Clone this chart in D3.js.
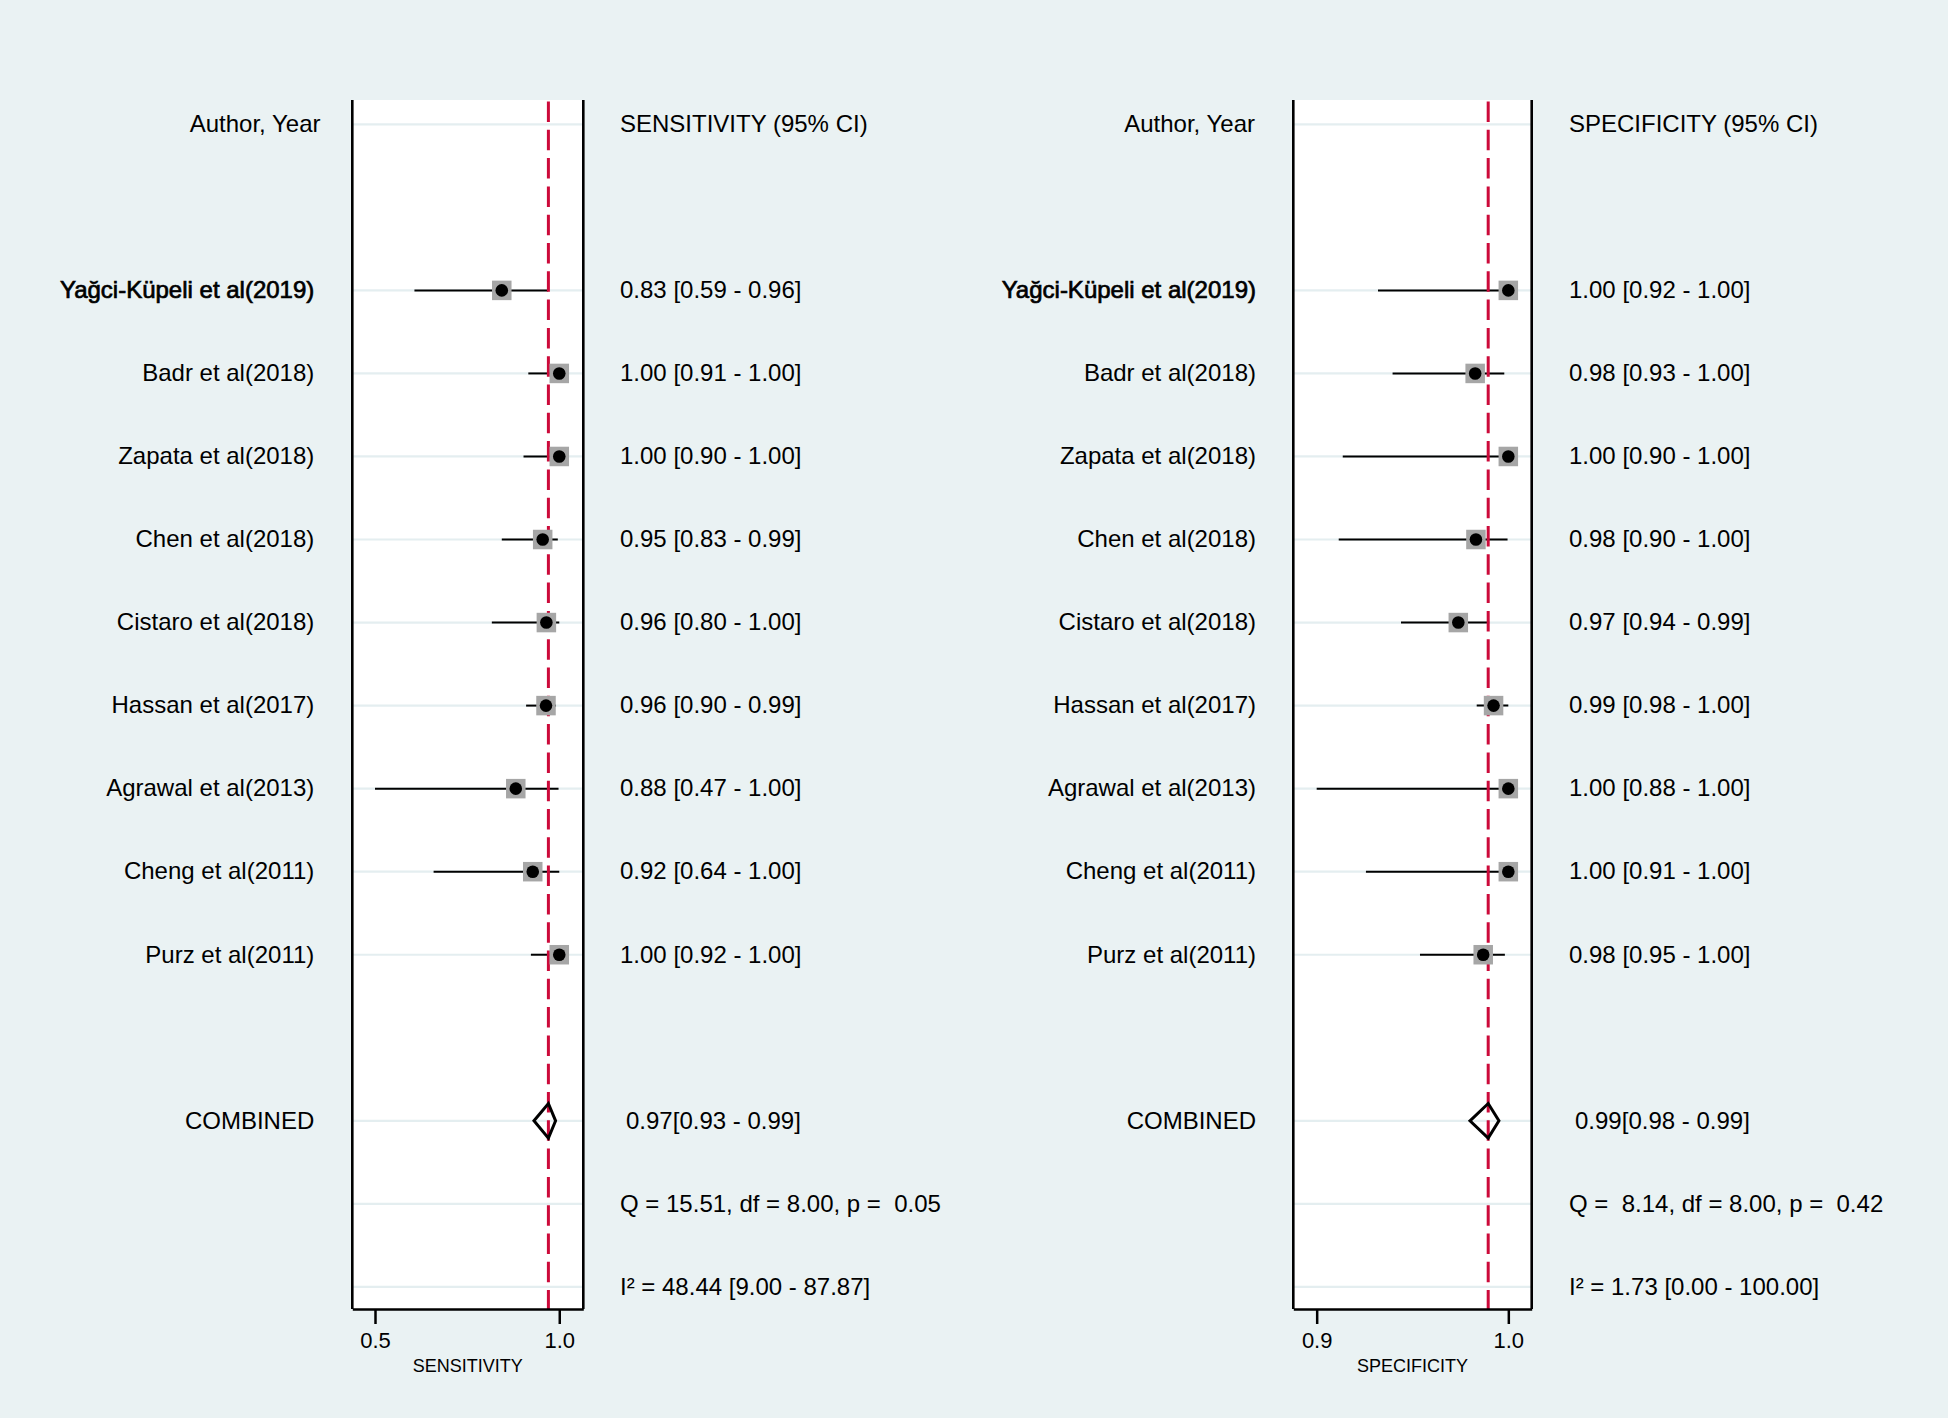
<!DOCTYPE html>
<html>
<head>
<meta charset="utf-8">
<script src="https://cdn.jsdelivr.net/npm/d3@7"></script>
<style>
  html, body { margin: 0; padding: 0; background: #eaf2f3; }
  svg { display: block; }
  text { font-family: "Liberation Sans", Arial, Helvetica, sans-serif; fill: #000; }
</style>
</head>
<body>
<svg id="chart" width="1948" height="1418"></svg>
<script>
// ---------------- DATA ----------------
const authors = ["Yağci-Küpeli et al(2019)", "Badr et al(2018)", "Zapata et al(2018)", "Chen et al(2018)",
  "Cistaro et al(2018)", "Hassan et al(2017)", "Agrawal et al(2013)", "Cheng et al(2011)", "Purz et al(2011)"];

// Sensitivity (positions as drawn in the plot)
const sensEst = [0.844, 1.000, 1.000, 0.955, 0.965, 0.964, 0.882, 0.928, 1.000];
const sensLo  = [0.607, 0.916, 0.903, 0.844, 0.817, 0.910, 0.500, 0.659, 0.923];
const sensHi  = [0.970, 1.000, 1.000, 0.996, 1.000, 0.991, 0.998, 1.000, 1.000];
const sensLabels = ["0.83 [0.59 - 0.96]", "1.00 [0.91 - 1.00]", "1.00 [0.90 - 1.00]", "0.95 [0.83 - 0.99]",
  "0.96 [0.80 - 1.00]", "0.96 [0.90 - 0.99]", "0.88 [0.47 - 1.00]", "0.92 [0.64 - 1.00]", "1.00 [0.92 - 1.00]"];
const sensCombined = [0.9705, 0.9314, 0.990];   // est, lo, hi
const sensCombinedLabel = "0.97[0.93 - 0.99]";
const sensQ = "Q = 15.51, df = 8.00, p =  0.05";
const sensI2 = "I² = 48.44 [9.00 - 87.87]";
const sensTicks = [0.5, 1.0];

// Specificity
const specEst = [1.000, 0.9827, 1.000, 0.9831, 0.9739, 0.9923, 1.000, 1.000, 0.9869];
const specLo  = [0.932, 0.9396, 0.9136, 0.9115, 0.944, 0.9835, 0.900, 0.9257, 0.9539];
const specHi  = [1.000, 0.9979, 1.000, 0.9996, 0.990, 1.000, 1.000, 1.000, 0.9982];
const specLabels = ["1.00 [0.92 - 1.00]", "0.98 [0.93 - 1.00]", "1.00 [0.90 - 1.00]", "0.98 [0.90 - 1.00]",
  "0.97 [0.94 - 0.99]", "0.99 [0.98 - 1.00]", "1.00 [0.88 - 1.00]", "1.00 [0.91 - 1.00]", "0.98 [0.95 - 1.00]"];
const specCombined = [0.9895, 0.980, 0.9951];
const specCombinedLabel = "0.99[0.98 - 0.99]";
const specQ = "Q =  8.14, df = 8.00, p =  0.42";
const specI2 = "I² = 1.73 [0.00 - 100.00]";
const specTicks = [0.9, 1.0];

const headerLeft = "Author, Year";
const combinedName = "COMBINED";

// ---------------- LAYOUT ----------------
const svg = d3.select("#chart");
const rowY = d3.scaleLinear().domain([0, 14]).range([124.3, 1286.9]);
const frameTop = 100, frameBottom = 1309;
const studyRows = authors.map((d, i) => i + 2);
const gridRows = [0, ...studyRows, 12, 13, 14];

const panels = [
  { est: sensEst, lo: sensLo, hi: sensHi, labels: sensLabels, comb: sensCombined, combLabel: sensCombinedLabel,
    q: sensQ, i2: sensI2, ticks: sensTicks, title: "SENSITIVITY", header: "SENSITIVITY (95% CI)",
    domain: [0.4384, 1.0652], range: [352.3, 583.3], authorEnd: 320.5, nameEnd: 314.3, valX: 620, combX: 626 },
  { est: specEst, lo: specLo, hi: specHi, labels: specLabels, comb: specCombined, combLabel: specCombinedLabel,
    q: specQ, i2: specI2, ticks: specTicks, title: "SPECIFICITY", header: "SPECIFICITY (95% CI)",
    domain: [0.8878, 1.0122], range: [1293.3, 1531.7], authorEnd: 1255, nameEnd: 1256, valX: 1569, combX: 1575 }
];

const red = "#cc0a3a";

panels.forEach(p => {
  const x = d3.scaleLinear().domain(p.domain).range(p.range);
  const g = svg.append("g");
  const [x0, x1] = p.range;

  // plot region
  g.append("rect").attr("x", x0).attr("y", frameTop).attr("width", x1 - x0).attr("height", frameBottom - frameTop)
    .attr("fill", "#ffffff");

  // gridlines
  g.selectAll("line.grid").data(gridRows).join("line").attr("class", "grid")
    .attr("x1", x0).attr("x2", x1).attr("y1", d => rowY(d)).attr("y2", d => rowY(d))
    .attr("stroke", "#e4eef0").attr("stroke-width", 2.2);

  // CI lines
  g.selectAll("line.ci").data(p.est).join("line").attr("class", "ci")
    .attr("x1", (d, i) => x(p.lo[i])).attr("x2", (d, i) => x(p.hi[i]))
    .attr("y1", (d, i) => rowY(studyRows[i])).attr("y2", (d, i) => rowY(studyRows[i]))
    .attr("stroke", "#000").attr("stroke-width", 2);

  // pooled estimate dashed line
  g.append("line").attr("x1", x(p.comb[0])).attr("x2", x(p.comb[0]))
    .attr("y1", frameTop + 1.5).attr("y2", frameBottom)
    .attr("stroke", red).attr("stroke-width", 3).attr("stroke-dasharray", "20.5 7.8");

  // squares
  const sq = 19.5;
  g.selectAll("rect.sq").data(p.est).join("rect").attr("class", "sq")
    .attr("x", d => x(d) - sq / 2).attr("y", (d, i) => rowY(studyRows[i]) - sq / 2)
    .attr("width", sq).attr("height", sq).attr("fill", "#a6a6a6");

  // dots
  g.selectAll("circle.dot").data(p.est).join("circle").attr("class", "dot")
    .attr("cx", d => x(d)).attr("cy", (d, i) => rowY(studyRows[i])).attr("r", 6.3).attr("fill", "#000");

  // diamond
  const cy = rowY(12), h = 17.3;
  const [ce, cl, ch] = p.comb;
  g.append("path")
    .attr("d", `M${x(cl)},${cy} L${x(ce)},${cy - h} L${x(ch)},${cy} L${x(ce)},${cy + h} Z`)
    .attr("fill", "none").attr("stroke", "#000").attr("stroke-width", 3).attr("stroke-linejoin", "miter");

  // frame: left, right borders
  [x0, x1].forEach(xx => g.append("line").attr("x1", xx).attr("x2", xx).attr("y1", frameTop).attr("y2", frameBottom)
    .attr("stroke", "#000").attr("stroke-width", 2.6));

  // axis
  const ax = g.append("g").attr("transform", `translate(0,${frameBottom})`)
    .call(d3.axisBottom(x).tickValues(p.ticks).tickFormat(d3.format(".1f")).tickSizeInner(15).tickSizeOuter(0));
  ax.select(".domain").attr("stroke", "#000").attr("stroke-width", 2.6);
  ax.selectAll(".tick line").attr("stroke", "#000").attr("stroke-width", 2.5);
  ax.selectAll(".tick text").attr("y", 38.5).attr("dy", null)
    .style("font-family", "'Liberation Sans', Arial, sans-serif").style("font-size", "22px").attr("fill", "#000");
  g.append("text").attr("x", (x0 + x1) / 2).attr("y", 1372.3).attr("text-anchor", "middle")
    .style("font-size", "18px").text(p.title);

  // left texts
  const fs = "24px", base = 7.8;
  g.append("text").attr("x", p.authorEnd).attr("y", rowY(0) + base).attr("text-anchor", "end")
    .style("font-size", fs).text(headerLeft);
  g.selectAll("text.name").data(authors).join("text").attr("class", "name")
    .attr("x", p.nameEnd).attr("y", (d, i) => rowY(studyRows[i]) + base).attr("text-anchor", "end")
    .style("font-size", fs)
    .attr("stroke", (d, i) => i === 0 ? "#000" : null).attr("stroke-width", (d, i) => i === 0 ? 0.7 : null)
    .text(d => d);
  g.append("text").attr("x", p.nameEnd).attr("y", rowY(12) + base).attr("text-anchor", "end")
    .style("font-size", fs).text(combinedName);

  // right texts
  g.append("text").attr("x", p.valX).attr("y", rowY(0) + base).style("font-size", fs).text(p.header);
  g.selectAll("text.val").data(p.labels).join("text").attr("class", "val")
    .attr("x", p.valX).attr("y", (d, i) => rowY(studyRows[i]) + base).style("font-size", fs).text(d => d);
  g.append("text").attr("x", p.combX).attr("y", rowY(12) + base).style("font-size", fs).text(p.combLabel);
  g.append("text").attr("x", p.valX).attr("y", rowY(13) + base).style("font-size", fs)
    .style("white-space", "pre").attr("xml:space", "preserve").text(p.q);
  g.append("text").attr("x", p.valX).attr("y", rowY(14) + base).style("font-size", fs).text(p.i2);
});
</script>
</body>
</html>
